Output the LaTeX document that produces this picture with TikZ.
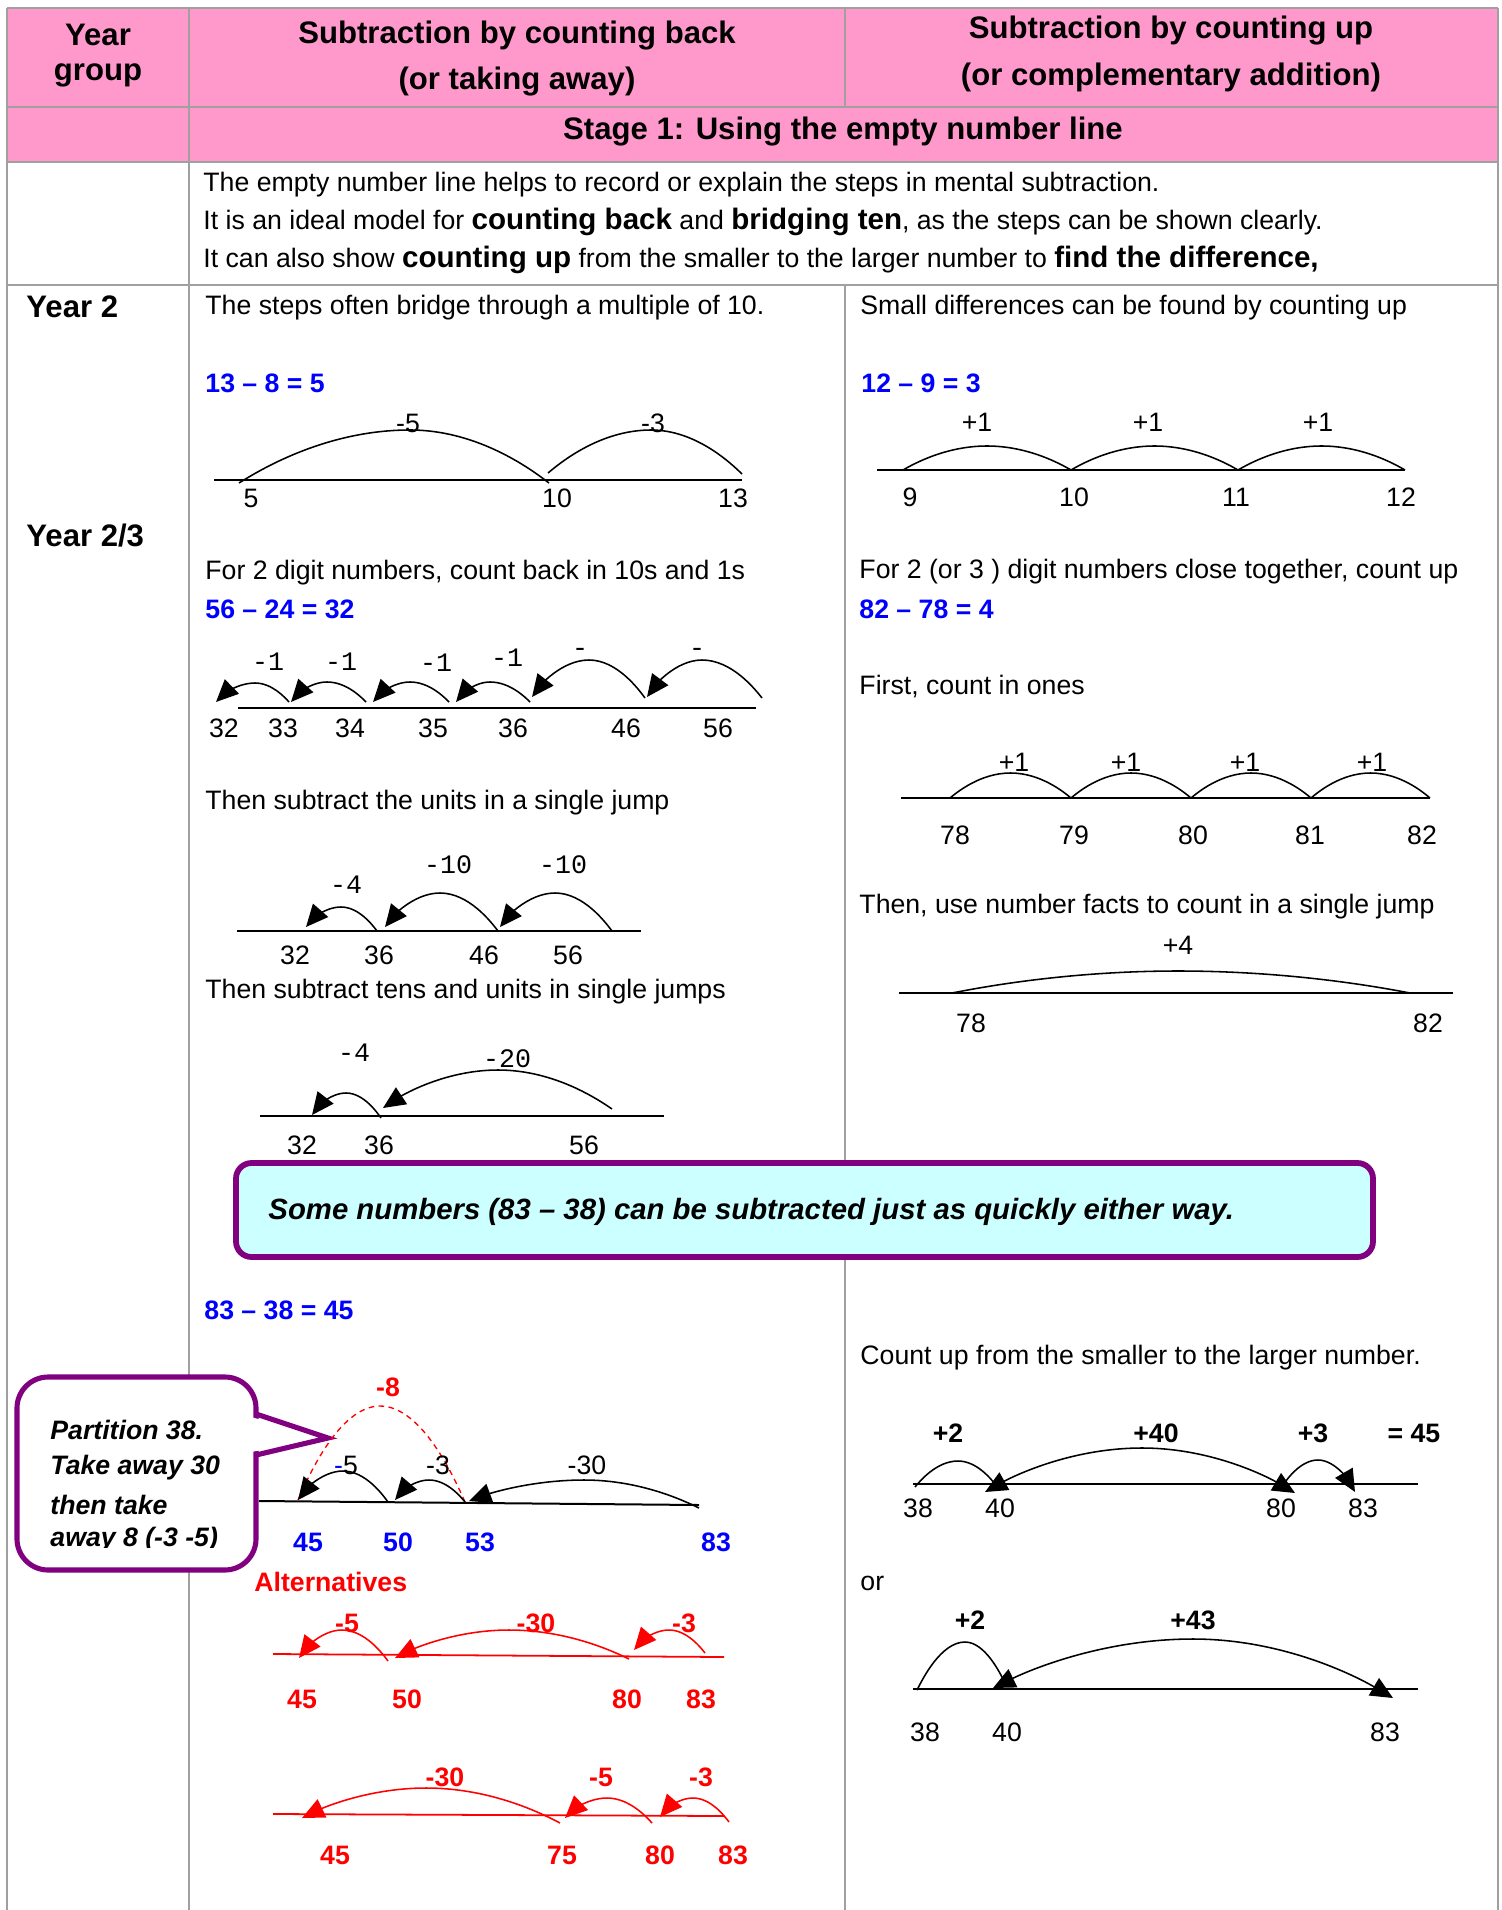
\documentclass[tikz,border=0pt]{standalone}
\usepackage{fontspec}
\setmainfont{Liberation Sans}
\setmonofont{Liberation Mono}
\usetikzlibrary{arrows.meta, calc}

\definecolor{headpink}{HTML}{FF99CC}
\definecolor{gridgray}{HTML}{A0A0A0}
\definecolor{notecyan}{HTML}{CCFFFF}
\definecolor{notepurple}{HTML}{800080}

\newcommand\bigbold[1]{{\fontsize{13.3}{16}\selectfont\bfseries #1}}

\tikzset{
  grid/.style={draw=gridgray, line width=0.9pt},
  head/.style={inner sep=0pt, font=\fontsize{14}{17}\selectfont\bfseries},
  yearlbl/.style={anchor=west, inner sep=0pt, font=\fontsize{14}{17}\selectfont\bfseries},
  txt/.style={anchor=west, inner sep=0pt, font=\fontsize{12}{14}\selectfont},
  eqn/.style={anchor=west, inner sep=0pt, text=blue, font=\fontsize{12}{14}\selectfont\bfseries},
  num/.style={inner sep=0pt, font=\fontsize{12}{14}\selectfont},
  bnum/.style={inner sep=0pt, font=\fontsize{12}{14}\selectfont\bfseries},
  rnum/.style={bnum, text=red},
  mono/.style={inner sep=0pt, font=\fontsize{12}{14}\selectfont\ttfamily},
  numline/.style={line width=0.9pt},
  hop/.style={line width=0.7pt},
  hoparrow/.style={hop, -{Triangle[length=10pt,width=9pt]}},
  hopboth/.style={hop, {Triangle[length=10pt,width=9pt]}-{Triangle[length=10pt,width=9pt]}},
  note/.style={anchor=west, inner sep=0pt, font=\fontsize{12}{14}\selectfont\bfseries\itshape},
  bubble/.style={draw=notepurple, line width=2.3pt},
}

\begin{document}
\begin{tikzpicture}[x=0.45pt, y=-0.45pt]

  \useasboundingbox (0,0) rectangle (1501,1910);

  % Header band
  \fill[headpink] (7,8) rectangle (1498,162);

  % Table rules
  \draw[grid] (7,8) -- (1498,8);
  \foreach \yy in {107,162,285} \draw[grid] (7,\yy) -- (1498,\yy);
  \foreach \xx in {7,189,1498} \draw[grid] (\xx,8) -- (\xx,1910);
  \draw[grid] (845,8) -- (845,107);
  \draw[grid] (845,285) -- (845,1910);

  % Headings
  \node[head] (hyear) at (98,35) {Year};
  \node[head] (hgroup) at (98,75) {group};
  \node[head] (hback) at (517,36) {Subtraction by counting back};
  \node[head] (hback2) at (517,82) {(or taking away)};
  \node[head] (hup) at (1171,31) {Subtraction by counting up};
  \node[head] (hup2) at (1171,77) {(or complementary addition)};
  \node[head] (hstage) at (843,132) {Stage 1: Using the empty number line};

  % Introduction
  \node[txt] (intro1) at (203,185) {The empty number line helps to record or explain the steps in mental subtraction.};
  \node[txt] (intro2) at (203,222) {It is an ideal model for \bigbold{counting back} and \bigbold{bridging ten}, as the steps can be shown clearly.};
  \node[txt] (intro3) at (203,260) {It can also show \bigbold{counting up} from the smaller to the larger number to \bigbold{find the difference,}};

  % Year labels
  \node[yearlbl] (y2) at (26,307) {Year 2};
  \node[yearlbl] (y23) at (26,536) {Year 2/3};

  % ---------------- Counting back column ----------------
  \node[txt] (tbridge) at (205,308) {The steps often bridge through a multiple of 10.};
  \node[eqn] (eqa) at (205,383) {13 – 8 = 5};

  % 13 - 8
  \coordinate (a5) at (239,483);
  \coordinate (a10) at (549,483);
  \coordinate (a10r) at (548,473);
  \coordinate (a13) at (742,474);
  \draw[numline] (214,480) -- (742,480);
  \draw[hop] (a10) parabola bend (410,430) (a5);
  \draw[hop] (a13) parabola bend (651,430) (a10r);
  \node[num] (la5) at (408,423) {-5};
  \node[num] (la3) at (653,423) {-3};
  \foreach \n/\x in {5/251,10/557,13/733}
    \node[num] (na\n) at (\x,498) {\n};

  \node[txt] (tback) at (205,573) {For 2 digit numbers, count back in 10s and 1s};
  \node[eqn] (eqb) at (205,609) {56 – 24 = 32};

  % 56 - 24 in ones and tens
  \draw[numline] (238,708) -- (756,708);
  \foreach \n/\x in {32/224,33/283,34/350,35/433,36/513,46/626,56/718}
    \node[num] (nb\n) at (\x,728) {\n};
  \coordinate (b33t) at (289,702); \coordinate (b32h) at (216,702);
  \coordinate (b34t) at (366,702); \coordinate (b33h) at (291,702);
  \coordinate (b35t) at (449,702); \coordinate (b34h) at (373,702);
  \coordinate (b36t) at (530,702); \coordinate (b35h) at (456,702);
  \coordinate (b46t) at (645,698); \coordinate (b36h) at (532,697);
  \coordinate (b56t) at (762,698); \coordinate (b46h) at (647,697);
  \draw[hoparrow] (b33t) parabola bend (255,683) (b32h);
  \draw[hoparrow] (b34t) parabola bend (327,682) (b33h);
  \draw[hoparrow] (b35t) parabola bend (410,682) (b34h);
  \draw[hoparrow] (b36t) parabola bend (490,682) (b35h);
  \draw[hoparrow] (b46t) parabola bend (589,660) (b36h);
  \draw[hoparrow] (b56t) parabola bend (702,660) (b46h);
  \node[mono] (lb1) at (268,662) {-1};
  \node[mono] (lb2) at (341,662) {-1};
  \node[mono] (lb3) at (436,663) {-1};
  \node[mono] (lb4) at (507,658) {-1};
  \node[mono] (lb5) at (580,652) {-};
  \node[mono] (lb6) at (697,652) {-};

  \node[txt] (tunits) at (205,803) {Then subtract the units in a single jump};

  % units in a single jump
  \draw[numline] (237,931) -- (641,931);
  \foreach \n/\x in {32/295,36/379,46/484,56/568}
    \node[num] (nc\n) at (\x,955) {\n};
  \coordinate (c36t) at (377,931); \coordinate (c32h) at (306,927);
  \coordinate (c46t) at (498,931); \coordinate (c36h) at (385,927);
  \coordinate (c56t) at (612,931); \coordinate (c46h) at (500,927);
  \draw[hoparrow] (c36t) parabola bend (341,907) (c32h);
  \draw[hoparrow] (c46t) parabola bend (440,893) (c36h);
  \draw[hoparrow] (c56t) parabola bend (555,893) (c46h);
  \node[mono] (lc1) at (346,885) {-4};
  \node[mono] (lc2) at (448,865) {-10};
  \node[mono] (lc3) at (563,865) {-10};

  \node[txt] (ttens) at (205,992) {Then subtract tens and units in single jumps};

  % tens and units in single jumps
  \draw[numline] (260,1116) -- (664,1116);
  \foreach \n/\x in {32/302,36/379,56/584}
    \node[num] (nd\n) at (\x,1145) {\n};
  \coordinate (d36t) at (381,1118); \coordinate (d32h) at (312,1115);
  \coordinate (d56t) at (612,1109); \coordinate (d36h) at (383,1108);
  \draw[hoparrow] (d36t) parabola bend (346,1093) (d32h);
  \draw[hoparrow] (d56t) parabola bend (498,1070) (d36h);
  \node[mono] (ld1) at (354,1053) {-4};
  \node[mono] (ld2) at (507,1059) {-20};

  % ---------------- Counting up column ----------------
  \node[txt] (tsmall) at (860,308) {Small differences can be found by counting up};
  \node[eqn] (eqc) at (861,383) {12 – 9 = 3};

  % 12 - 9
  \draw[numline] (877,470) -- (1405,470);
  \foreach \n/\x in {9/903,10/1071,11/1238,12/1405}
    \coordinate (e\n) at (\x,470);
  \foreach \a/\b in {9/10,10/11,11/12}
    \draw[hop] (e\a) parabola bend ($(e\a)!0.5!(e\b)+(0,-24)$) (e\b);
  \foreach \x [count=\i] in {977,1148,1318}
    \node[num] (le\i) at (\x,422) {+1};
  \foreach \n/\x in {9/910,10/1074,11/1236,12/1401}
    \node[num] (ne\n) at (\x,497) {\n};

  \node[txt] (tclose) at (859,572) {For 2 (or 3 ) digit numbers close together, count up};
  \node[eqn] (eqd) at (859,609) {82 – 78 = 4};
  \node[txt] (tones) at (859,687) {First, count in ones};

  % 82 - 78 in ones
  \draw[numline] (901,798) -- (1430,798);
  \foreach \n/\x in {78/950,79/1071,80/1191,81/1311,82/1430}
    \coordinate (f\n) at (\x,798);
  \foreach \a/\b in {78/79,79/80,80/81,81/82}
    \draw[hop] (f\a) parabola bend ($(f\a)!0.5!(f\b)+(0,-25)$) (f\b);
  \foreach \x [count=\i] in {1014,1126,1245,1372}
    \node[num] (lf\i) at (\x,762) {+1};
  \foreach \n/\x in {78/955,79/1074,80/1193,81/1310,82/1422}
    \node[num] (nf\n) at (\x,835) {\n};

  \node[txt] (tfacts) at (859,907) {Then, use number facts to count in a single jump};

  % single jump
  \draw[numline] (899,993) -- (1453,993);
  \coordinate (g78) at (952,993);
  \coordinate (g82) at (1410,993);
  \draw[hop] (g78) parabola bend (1178,971) (g82);
  \node[num] (lg) at (1178,945) {+4};
  \node[num] (ng78) at (971,1023) {78};
  \node[num] (ng82) at (1428,1023) {82};

  % Note across both columns
  \draw[notepurple, line width=2.6pt, fill=notecyan, rounded corners=7pt]
    (236,1163) rectangle (1373,1257);
  \node[note, font=\fontsize{13.2}{15}\selectfont\bfseries\itshape] (either) at (268,1212) {Some numbers (83 – 38) can be subtracted just as quickly either way.};

  % ---------------- 83 - 38 ----------------
  \node[eqn] (eqe) at (204,1310) {83 – 38 = 45};

  \draw[numline] (259,1501) -- (699,1505);

  % speech bubble
  \draw[bubble, fill=white, rounded corners=14pt] (17,1377) rectangle (256,1570);
  \fill[white] (251,1417) -- (326,1438) -- (251,1452) -- cycle;
  \draw[bubble, line join=miter] (256,1414) -- (328,1438) -- (256,1455);
  \begin{scope}
    \clip (17,1377) rectangle (256,1547);
    \node[note] (part1) at (50,1430) {Partition 38.};
    \node[note] (part2) at (50,1468) {Take away 30};
    \node[note] (part3) at (50,1505) {then take};
    \node[note] (part4) at (50,1540) {away 8 (-3 -5)};
  \end{scope}

  \coordinate (h45) at (298,1500);
  \coordinate (h50t) at (388,1502); \coordinate (h50h) at (395,1500);
  \coordinate (h53t) at (465,1502); \coordinate (h53h) at (469,1501);
  \coordinate (h83) at (699,1508);
  \draw[red, line width=0.6pt, dash pattern=on 2.5pt off 2pt] (h53t) parabola bend (380,1406) (h45);
  \draw[hoparrow] (h50t) parabola bend (343,1471) (h45);
  \draw[hoparrow] (h53t) parabola bend (429,1480) (h50h);
  \draw[hoparrow] (h83) parabola bend (584,1480) (h53h);
  \node[rnum] (lh8) at (388,1387) {-8};
  \node[num] (lh5) at (346,1465) {\textcolor{blue}{-}5};
  \node[num] (lh3) at (438,1465) {-3};
  \node[num] (lh30) at (587,1465) {-30};
  \foreach \n/\x in {45/308,50/398,53/480,83/716}
    \node[bnum, text=blue] (nh\n) at (\x,1542) {\n};

  \node[anchor=west, inner sep=0pt, text=red, font=\fontsize{12}{14}\selectfont\bfseries] (alt) at (254,1582) {Alternatives};

  % first alternative
  \draw[numline, red, line width=0.8pt] (273,1654) -- (724,1657);
  \coordinate (i50t) at (388,1661); \coordinate (i45h) at (299,1658);
  \coordinate (i80t) at (629,1659); \coordinate (i50h) at (395,1658);
  \coordinate (i83t) at (705,1653); \coordinate (i80h) at (634,1650);
  \draw[hoparrow, red] (i50t) parabola bend (342,1630) (i45h);
  \draw[hoparrow, red] (i80t) parabola bend (509,1630) (i50h);
  \draw[hoparrow, red] (i83t) parabola bend (669,1630) (i80h);
  \node[rnum] (li5) at (347,1623) {-5};
  \node[rnum] (li30) at (536,1623) {-30};
  \node[rnum] (li3) at (684,1623) {-3};
  \foreach \n/\x in {45/302,50/407,80/627,83/701}
    \node[rnum] (ni\n) at (\x,1699) {\n};

  % second alternative
  \draw[numline, red, line width=0.8pt] (273,1814) -- (724,1816);
  \coordinate (j75t) at (560,1823); \coordinate (j45h) at (302,1818);
  \coordinate (j80t) at (652,1823); \coordinate (j75h) at (565,1818);
  \coordinate (j83t) at (729,1822); \coordinate (j80h) at (660,1817);
  \draw[hoparrow, red] (j75t) parabola bend (426,1788) (j45h);
  \draw[hoparrow, red] (j80t) parabola bend (607,1798) (j75h);
  \draw[hoparrow, red] (j83t) parabola bend (693,1798) (j80h);
  \node[rnum] (lj30) at (445,1777) {-30};
  \node[rnum] (lj5) at (601,1777) {-5};
  \node[rnum] (lj3) at (701,1777) {-3};
  \foreach \n/\x in {45/335,75/562,80/660,83/733}
    \node[rnum] (nj\n) at (\x,1855) {\n};

  % counting up from 38
  \node[txt] (tcount) at (860,1358) {Count up from the smaller to the larger number.};

  \draw[numline] (913,1484) -- (1418,1484);
  \coordinate (k38) at (915,1487);
  \coordinate (k40) at (995,1484);
  \coordinate (k40a) at (985,1492);
  \coordinate (k80) at (1295,1493);
  \coordinate (k80a) at (1283,1485);
  \coordinate (k83) at (1355,1492);
  \draw[hop] (k38) parabola bend (958,1461) (k40);
  \draw[hopboth] (k40a) parabola bend (1142,1448) (k80);
  \draw[hoparrow] (k80a) parabola bend (1318,1460) (k83);
  \node[bnum] (lk2) at (948,1433) {+2};
  \node[bnum] (lk40) at (1156,1433) {+40};
  \node[bnum] (lk3) at (1313,1433) {+3};
  \node[bnum] (lk45) at (1414,1433) {= 45};
  \foreach \n/\x in {38/918,40/1000,80/1281,83/1363}
    \node[num] (nk\n) at (\x,1508) {\n};

  \node[txt] (tor) at (860,1583) {or};

  \draw[numline] (913,1689) -- (1418,1689);
  \coordinate (m38) at (917,1690);
  \coordinate (m40) at (1005,1683);
  \coordinate (m40a) at (993,1688);
  \coordinate (m83) at (1393,1698);
  \draw[hop] (m38) parabola bend (965,1642) (m40);
  \draw[hopboth] (m40a) parabola bend (1193,1639) (m83);
  \node[bnum] (lm2) at (970,1620) {+2};
  \node[bnum] (lm43) at (1193,1620) {+43};
  \foreach \n/\x in {38/925,40/1007,83/1385}
    \node[num] (nm\n) at (\x,1732) {\n};

\end{tikzpicture}
\end{document}
